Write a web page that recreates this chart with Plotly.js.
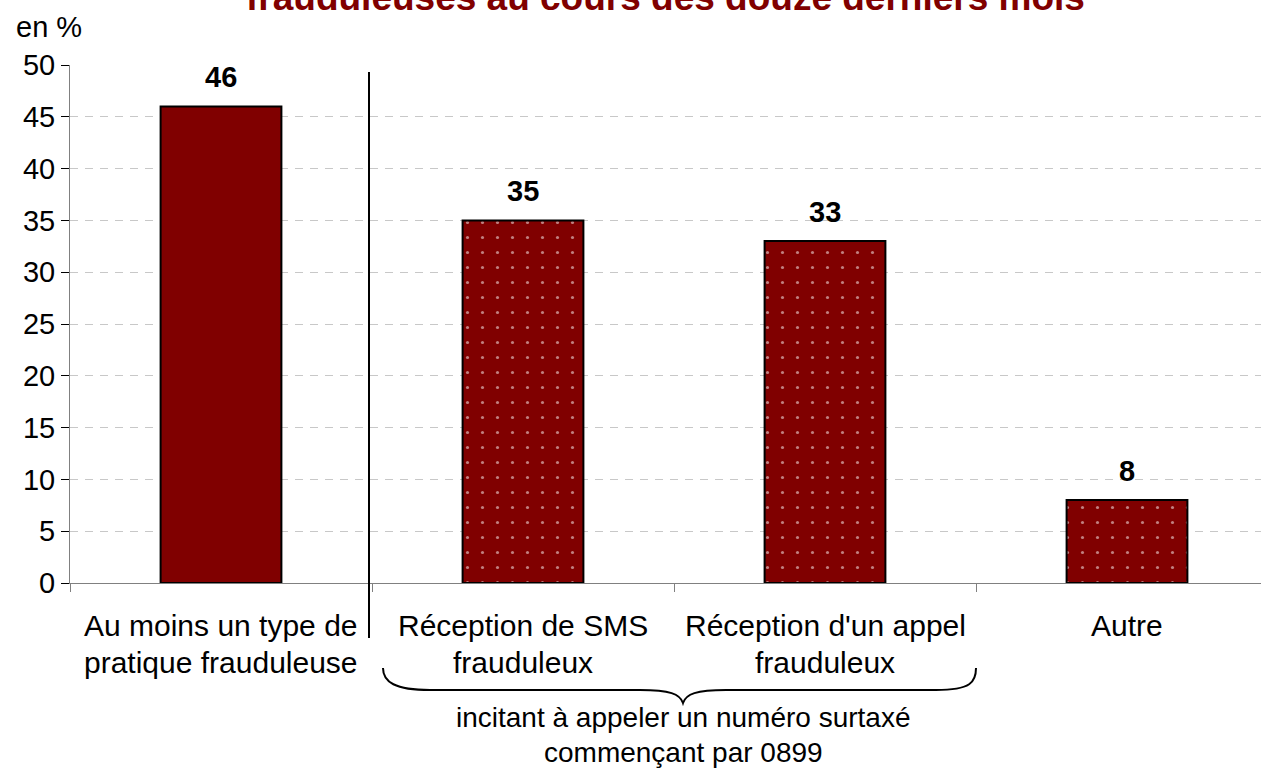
<!DOCTYPE html>
<html>
<head>
<meta charset="utf-8">
<script src="https://cdn.plot.ly/plotly-3.0.1.min.js"></script>
<style>html,body{margin:0;padding:0;background:#fff;}#chart{width:1261px;height:769px;}</style>
</head>
<body>
<div id="chart"></div>
<script>
// ---- data ----
const categories = ["c0", "c1", "c2", "c3"];
const labelLine1 = ["Au moins un type de", "Réception de SMS", "Réception d'un appel", "Autre"];
const labelLine2 = ["pratique frauduleuse", "frauduleux", "frauduleux", ""];
const values = [46, 35, 33, 8];
const patterns = ["", ".", ".", "."];
const yTicks = [0, 5, 10, 15, 20, 25, 30, 35, 40, 45, 50];
const titleText = "frauduleuses au cours des douze derniers mois";
const yUnit = "en %";
const braceLine1 = "incitant à appeler un numéro surtaxé";
const braceLine2 = "commençant par 0899";

const FONT = "Liberation Sans, Arial, sans-serif";
const RED = "#800000";
const FS = 29;

// geometry helpers (pixels -> paper)
const W = 1261, H = 769, L = 70, R = 0, T = 65, B = 186;
const pw = W - L - R, ph = H - T - B;
const px = x => (x - L) / pw;
const py = y => (H - B - y) / ph;

const trace = {
  type: "bar",
  x: categories,
  y: values,
  width: 0.4,
  marker: {
    color: RED,
    line: {color: "#000", width: 2},
    pattern: {shape: patterns, fgcolor: "#ffffff", bgcolor: RED, size: 15, solidity: 0.035, fillmode: "overlay"}
  },
  hoverinfo: "skip"
};

const annotations = [];
values.forEach((v, i) => {
  annotations.push({x: categories[i], y: v, xref: "x", yref: "y", text: "<b>" + v + "</b>",
    showarrow: false, yanchor: "middle", yshift: 29, font: {family: FONT, size: FS, color: "#000"}});
  annotations.push({x: categories[i], y: py(625), xref: "x", yref: "paper", text: labelLine1[i],
    showarrow: false, yanchor: "middle", font: {family: FONT, size: 30, color: "#000"}});
  if (labelLine2[i]) annotations.push({x: categories[i], y: py(662), xref: "x", yref: "paper", text: labelLine2[i],
    showarrow: false, yanchor: "middle", font: {family: FONT, size: 30, color: "#000"}});
});
annotations.push({x: px(14), y: py(27), xref: "paper", yref: "paper", text: yUnit, showarrow: false,
  xanchor: "left", yanchor: "middle", font: {family: FONT, size: FS, color: "#000"}});
annotations.push({x: px(683), y: py(717), xref: "paper", yref: "paper", text: braceLine1, showarrow: false,
  xanchor: "center", yanchor: "middle", font: {family: FONT, size: 28, color: "#000"}});
annotations.push({x: px(683), y: py(752), xref: "paper", yref: "paper", text: braceLine2, showarrow: false,
  xanchor: "center", yanchor: "middle", font: {family: FONT, size: 28, color: "#000"}});
annotations.push({x: px(665), y: py(-2.5), xref: "paper", yref: "paper", text: "<b>" + titleText + "</b>", showarrow: false,
  xanchor: "center", yanchor: "middle", font: {family: FONT, size: 37, color: RED}});

// brace path in paper coords
function P(x, y) { return px(x).toFixed(5) + "," + py(y).toFixed(5); }
const bracePath = "M" + P(383, 668) +
  " C" + P(383, 682) + " " + P(395, 690) + " " + P(430, 690) +
  " L" + P(640, 690) +
  " C" + P(670, 690) + " " + P(680, 694) + " " + P(683, 703) +
  " C" + P(686, 694) + " " + P(696, 690) + " " + P(726, 690) +
  " L" + P(936, 690) +
  " C" + P(971, 690) + " " + P(976, 682) + " " + P(976, 668);

const shapes = [
  {type: "line", xref: "paper", yref: "paper", x0: px(369), x1: px(369), y0: py(72), y1: py(638),
    line: {color: "#000", width: 2}},
  {type: "path", xref: "paper", yref: "paper", path: bracePath, line: {color: "#000", width: 2}}
];

const layout = {
  width: W, height: H,
  margin: {l: L, r: R, t: T, b: B, pad: 0},
  paper_bgcolor: "#fff", plot_bgcolor: "#fff",
  showlegend: false,
  xaxis: {
    type: "category",
    range: [-0.5, 3.5 - 17 / 302],
    showticklabels: false,
    ticks: "outside", tickson: "boundaries", ticklen: 8, tickcolor: "#808080", tickwidth: 1,
    showline: true, linecolor: "#808080", linewidth: 1,
    showgrid: false, zeroline: false, fixedrange: true
  },
  yaxis: {
    range: [0, 50],
    tickvals: yTicks,
    ticks: "outside", ticklen: 8, tickcolor: "#000", tickwidth: 1,
    tickfont: {family: FONT, size: FS, color: "#000"},
    showline: true, linecolor: "#808080", linewidth: 1,
    showgrid: true, gridcolor: "#c8c8c8", gridwidth: 1, griddash: "8px,7px",
    zeroline: false, fixedrange: true
  },
  annotations: annotations,
  shapes: shapes
};

Plotly.newPlot("chart", [trace], layout, {displayModeBar: false, staticPlot: true});
</script>
</body>
</html>
